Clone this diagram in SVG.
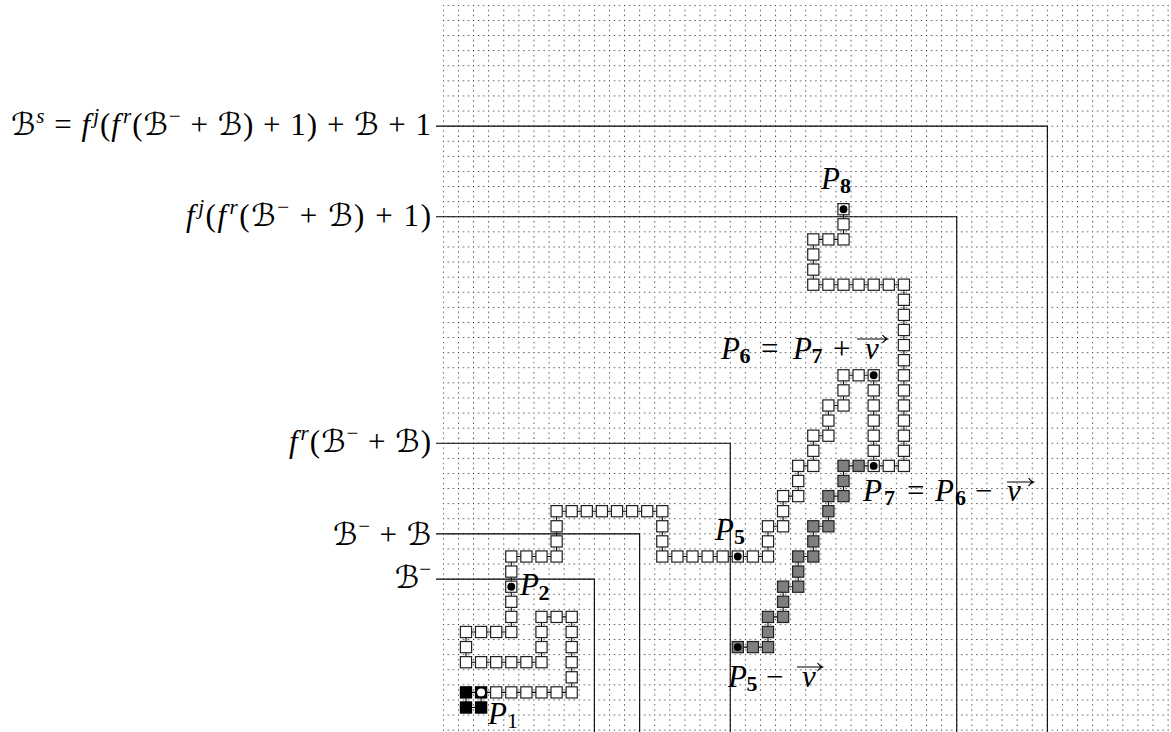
<svg xmlns="http://www.w3.org/2000/svg" width="1171" height="732" viewBox="0 0 1171 732">
<defs>
  <pattern id="grid" patternUnits="userSpaceOnUse" x="442.85" y="4.85" width="15.1" height="15.1">
    <rect x="0" y="0" width="1" height="1" fill="#000"/>
    <rect x="5.03" y="0" width="1" height="1" fill="#000"/>
    <rect x="10.07" y="0" width="1" height="1" fill="#000"/>
    <rect x="0" y="5.03" width="1" height="1" fill="#000"/>
    <rect x="0" y="10.07" width="1" height="1" fill="#000"/>
  </pattern>
  <rect id="w" x="-0.37" y="-0.37" width="0.74" height="0.74" fill="#fff" stroke="#222" stroke-width="0.08"/>
  <rect id="g" x="-0.37" y="-0.37" width="0.74" height="0.74" fill="#7f7f7f" stroke="#222" stroke-width="0.08"/>
  <rect id="b" x="-0.37" y="-0.37" width="0.74" height="0.74" fill="#000" stroke="#000" stroke-width="0.08"/>
  <circle id="d" r="0.26" fill="#000"/>
  <circle id="dw" r="0.26" fill="#fff"/>
</defs>
<style>
  .lvl{fill:none;stroke:#000;stroke-width:1.1}
  .lab{font-family:"Liberation Serif","DejaVu Serif",serif;font-size:31px;fill:#000}
  .it{font-style:italic}
  .cal{font-family:"DejaVu Serif","DejaVu Sans",serif;font-style:normal}
  .sup{font-size:21px;baseline-shift:12px}
  .sub{font-size:22px;font-weight:bold;font-style:normal}
  .sub1{font-size:22px;font-style:normal}
  .arr{fill:none;stroke:#000;stroke-width:1.2}
</style>
<rect x="442.85" y="4.85" width="727" height="726.5" fill="url(#grid)"/>

<g id="levels">
  <g id="level-Bminus">
    <path class="lvl" d="M436 579.15H594.35V732"/>
    <text class="lab" x="431" y="588" text-anchor="end"><tspan class="cal">ℬ</tspan><tspan class="sup">−</tspan></text>
  </g>
  <g id="level-BminusB">
    <path class="lvl" d="M436 533.85H639.65V732"/>
    <text class="lab" x="431" y="545" text-anchor="end" textLength="98" lengthAdjust="spacing"><tspan class="cal">ℬ</tspan><tspan class="sup">−</tspan> + <tspan class="cal">ℬ</tspan></text>
  </g>
  <g id="level-fr">
    <path class="lvl" d="M436 443.25H730.25V732"/>
    <text class="lab" x="431" y="452" text-anchor="end" textLength="142" lengthAdjust="spacing"><tspan class="it">f</tspan><tspan class="sup it" dx="2">r</tspan>(<tspan class="cal">ℬ</tspan><tspan class="sup">−</tspan> + <tspan class="cal">ℬ</tspan>)</text>
  </g>
  <g id="level-fj">
    <path class="lvl" d="M436 216.75H956.75V732"/>
    <text class="lab" x="431" y="225.5" text-anchor="end" textLength="245" lengthAdjust="spacing"><tspan class="it">f</tspan><tspan class="sup it" dx="2">j</tspan>(<tspan class="it">f</tspan><tspan class="sup it" dx="2">r</tspan>(<tspan class="cal">ℬ</tspan><tspan class="sup">−</tspan> + <tspan class="cal">ℬ</tspan>) + 1)</text>
  </g>
  <g id="level-Bs">
    <path class="lvl" d="M436 126.15H1047.35V732"/>
    <text class="lab" x="431" y="135" text-anchor="end" textLength="420" lengthAdjust="spacing"><tspan class="cal">ℬ</tspan><tspan class="sup it">s</tspan> = <tspan class="it">f</tspan><tspan class="sup it" dx="2">j</tspan>(<tspan class="it">f</tspan><tspan class="sup it" dx="2">r</tspan>(<tspan class="cal">ℬ</tspan><tspan class="sup">−</tspan> + <tspan class="cal">ℬ</tspan>) + 1) + <tspan class="cal">ℬ</tspan> + 1</text>
  </g>
</g>

<g id="assembly" transform="translate(466 707.5) scale(15.1)">
  <g id="connectors" fill="none" stroke="#000" stroke-width="0.07">
    <polyline points="0,0 1,0 1,-1 0,-1 0,0"/>
    <polyline points="1,-1 7,-1 7,-6 5,-6 5,-3 0,-3 0,-5 3,-5 3,-10 6,-10 6,-13 13,-13 13,-10 20,-10 20,-12 21,-12 21,-14 22,-14 22,-16 23,-16 23,-18 24,-18 24,-20 25,-20 25,-22 27,-22 27,-16 29,-16 29,-28 23,-28 23,-31 25,-31 25,-33"/>
    <polyline points="18,-4 20,-4 20,-6 21,-6 21,-8 22,-8 22,-10 23,-10 23,-12 24,-12 24,-14 25,-14 25,-16 27,-16"/>
  </g>
  <g id="seed">
    <use href="#b" x="0" y="0"/><use href="#b" x="1" y="0"/><use href="#b" x="0" y="-1"/>
  </g>
  <g id="P1"><use href="#b" x="1" y="-1"/><use href="#dw" x="1" y="-1"/></g>
  <g id="path-P1-P2">
    <use href="#w" x="2" y="-1"/><use href="#w" x="3" y="-1"/><use href="#w" x="4" y="-1"/><use href="#w" x="5" y="-1"/><use href="#w" x="6" y="-1"/><use href="#w" x="7" y="-1"/>
    <use href="#w" x="7" y="-2"/><use href="#w" x="7" y="-3"/><use href="#w" x="7" y="-4"/><use href="#w" x="7" y="-5"/><use href="#w" x="7" y="-6"/>
    <use href="#w" x="6" y="-6"/><use href="#w" x="5" y="-6"/>
    <use href="#w" x="5" y="-5"/><use href="#w" x="5" y="-4"/><use href="#w" x="5" y="-3"/>
    <use href="#w" x="4" y="-3"/><use href="#w" x="3" y="-3"/><use href="#w" x="2" y="-3"/><use href="#w" x="1" y="-3"/><use href="#w" x="0" y="-3"/>
    <use href="#w" x="0" y="-4"/><use href="#w" x="0" y="-5"/>
    <use href="#w" x="1" y="-5"/><use href="#w" x="2" y="-5"/><use href="#w" x="3" y="-5"/>
    <use href="#w" x="3" y="-6"/><use href="#w" x="3" y="-7"/>
  </g>
  <g id="P2"><use href="#w" x="3" y="-8"/><use href="#d" x="3" y="-8"/></g>
  <g id="path-P2-P5">
    <use href="#w" x="3" y="-9"/><use href="#w" x="3" y="-10"/>
    <use href="#w" x="4" y="-10"/><use href="#w" x="5" y="-10"/><use href="#w" x="6" y="-10"/>
    <use href="#w" x="6" y="-11"/><use href="#w" x="6" y="-12"/><use href="#w" x="6" y="-13"/>
    <use href="#w" x="7" y="-13"/><use href="#w" x="8" y="-13"/><use href="#w" x="9" y="-13"/><use href="#w" x="10" y="-13"/><use href="#w" x="11" y="-13"/><use href="#w" x="12" y="-13"/><use href="#w" x="13" y="-13"/>
    <use href="#w" x="13" y="-12"/><use href="#w" x="13" y="-11"/><use href="#w" x="13" y="-10"/>
    <use href="#w" x="14" y="-10"/><use href="#w" x="15" y="-10"/><use href="#w" x="16" y="-10"/><use href="#w" x="17" y="-10"/>
  </g>
  <g id="P5"><use href="#w" x="18" y="-10"/><use href="#d" x="18" y="-10"/></g>
  <g id="path-P5-P6">
    <use href="#w" x="19" y="-10"/><use href="#w" x="20" y="-10"/>
    <use href="#w" x="20" y="-11"/><use href="#w" x="20" y="-12"/><use href="#w" x="21" y="-12"/>
    <use href="#w" x="21" y="-13"/><use href="#w" x="21" y="-14"/><use href="#w" x="22" y="-14"/>
    <use href="#w" x="22" y="-15"/><use href="#w" x="22" y="-16"/><use href="#w" x="23" y="-16"/>
    <use href="#w" x="23" y="-17"/><use href="#w" x="23" y="-18"/><use href="#w" x="24" y="-18"/>
    <use href="#w" x="24" y="-19"/><use href="#w" x="24" y="-20"/><use href="#w" x="25" y="-20"/>
    <use href="#w" x="25" y="-21"/><use href="#w" x="25" y="-22"/><use href="#w" x="26" y="-22"/>
  </g>
  <g id="P6"><use href="#w" x="27" y="-22"/><use href="#d" x="27" y="-22"/></g>
  <g id="path-P6-P7">
    <use href="#w" x="27" y="-21"/><use href="#w" x="27" y="-20"/><use href="#w" x="27" y="-19"/><use href="#w" x="27" y="-18"/><use href="#w" x="27" y="-17"/>
  </g>
  <g id="P7"><use href="#w" x="27" y="-16"/><use href="#d" x="27" y="-16"/></g>
  <g id="path-P7-P8">
    <use href="#w" x="28" y="-16"/><use href="#w" x="29" y="-16"/>
    <use href="#w" x="29" y="-17"/><use href="#w" x="29" y="-18"/><use href="#w" x="29" y="-19"/><use href="#w" x="29" y="-20"/><use href="#w" x="29" y="-21"/><use href="#w" x="29" y="-22"/>
    <use href="#w" x="29" y="-23"/><use href="#w" x="29" y="-24"/><use href="#w" x="29" y="-25"/><use href="#w" x="29" y="-26"/><use href="#w" x="29" y="-27"/><use href="#w" x="29" y="-28"/>
    <use href="#w" x="28" y="-28"/><use href="#w" x="27" y="-28"/><use href="#w" x="26" y="-28"/><use href="#w" x="25" y="-28"/><use href="#w" x="24" y="-28"/><use href="#w" x="23" y="-28"/>
    <use href="#w" x="23" y="-29"/><use href="#w" x="23" y="-30"/><use href="#w" x="23" y="-31"/><use href="#w" x="24" y="-31"/><use href="#w" x="25" y="-31"/><use href="#w" x="25" y="-32"/>
  </g>
  <g id="P8"><use href="#w" x="25" y="-33"/><use href="#d" x="25" y="-33"/></g>
  <g id="P5-minus-v"><use href="#g" x="18" y="-4"/><use href="#d" x="18" y="-4"/></g>
  <g id="path-shifted">
    <use href="#g" x="19" y="-4"/><use href="#g" x="20" y="-4"/>
    <use href="#g" x="20" y="-5"/><use href="#g" x="20" y="-6"/><use href="#g" x="21" y="-6"/>
    <use href="#g" x="21" y="-7"/><use href="#g" x="21" y="-8"/><use href="#g" x="22" y="-8"/>
    <use href="#g" x="22" y="-9"/><use href="#g" x="22" y="-10"/><use href="#g" x="23" y="-10"/>
    <use href="#g" x="23" y="-11"/><use href="#g" x="23" y="-12"/><use href="#g" x="24" y="-12"/>
    <use href="#g" x="24" y="-13"/><use href="#g" x="24" y="-14"/><use href="#g" x="25" y="-14"/>
    <use href="#g" x="25" y="-15"/><use href="#g" x="25" y="-16"/><use href="#g" x="26" y="-16"/>
  </g>
</g>

<g id="labels">
  <g id="label-P1"><text class="lab it" x="488" y="724">P<tspan class="sub1" x="507" y="728">1</tspan></text></g>
  <g id="label-P2"><text class="lab it" x="520" y="595">P<tspan class="sub" x="538.5" y="600">2</tspan></text></g>
  <g id="label-P5"><text class="lab it" x="715" y="540">P<tspan class="sub" x="734" y="544">5</tspan></text></g>
  <g id="label-P8"><text class="lab it" x="821" y="189">P<tspan class="sub" x="840" y="193">8</tspan></text></g>
  <g id="label-P5v">
    <text class="lab" x="728" y="687"><tspan class="it">P</tspan><tspan class="sub" x="746.5" y="691">5</tspan><tspan x="766" y="687">−</tspan><tspan class="it" x="802" y="687">v</tspan></text>
    <path class="arr" d="M797 667H822M817.5 663Q819.5 666 822.5 667Q819.5 668 817.5 671"/>
  </g>
  <g id="label-P6">
    <text class="lab" x="721" y="359"><tspan class="it">P</tspan><tspan class="sub" x="739.5" y="363">6</tspan><tspan x="761" y="359">=</tspan><tspan class="it" x="793" y="359">P</tspan><tspan class="sub" x="811.5" y="363">7</tspan><tspan x="833" y="359">+</tspan><tspan class="it" x="865" y="359">v</tspan></text>
    <path class="arr" d="M857 339H887M882.5 335Q884.5 338 887.5 339Q884.5 340 882.5 343"/>
  </g>
  <g id="label-P7">
    <text class="lab" x="863" y="501"><tspan class="it">P</tspan><tspan class="sub" x="884" y="505">7</tspan><tspan x="907" y="501">=</tspan><tspan class="it" x="935" y="501">P</tspan><tspan class="sub" x="955" y="505">6</tspan><tspan x="975" y="501">−</tspan><tspan class="it" x="1007" y="501">v</tspan></text>
    <path class="arr" d="M1007 482H1033M1028.5 478Q1030.5 481 1033.5 482Q1030.5 483 1028.5 486"/>
  </g>
</g>
</svg>
